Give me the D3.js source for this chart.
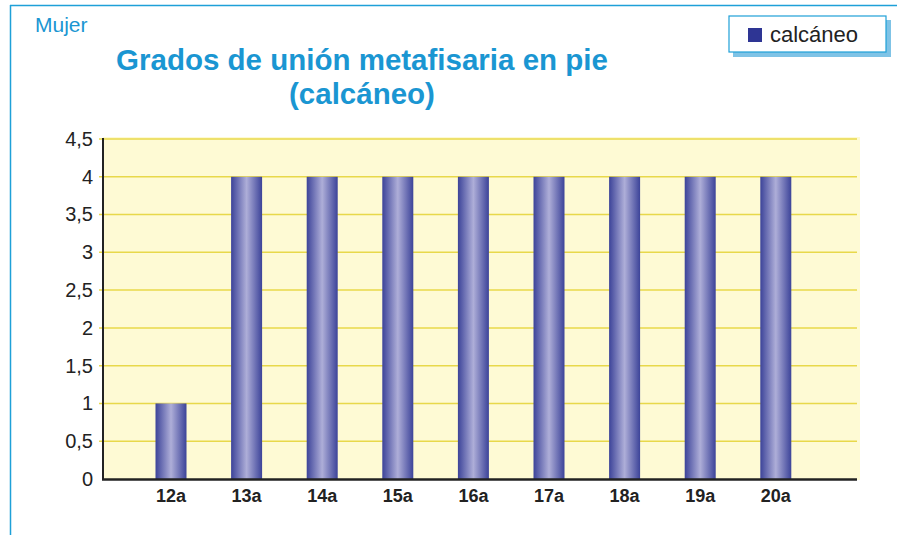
<!DOCTYPE html>
<html>
<head>
<meta charset="utf-8">
<script src="https://cdn.jsdelivr.net/npm/d3@7"></script>
<style>
  body { margin: 0; background: #fff; }
  svg text { font-family: "Liberation Sans", Arial, sans-serif; }
</style>
</head>
<body>
<svg id="chart" width="897" height="535"></svg>
<script>
// data
const categories = ["12a", "13a", "14a", "15a", "16a", "17a", "18a", "19a", "20a"];
const values = [1, 4, 4, 4, 4, 4, 4, 4, 4];
const yTicks = [0, 0.5, 1, 1.5, 2, 2.5, 3, 3.5, 4, 4.5];
const seriesName = "calcáneo";

const svg = d3.select("#chart");

let plot = { left: 103, right: 857, top: 139, bottom: 479 };

// frame
svg.append("line").attr("x1", 10).attr("x2", 897).attr("y1", 5.5).attr("y2", 5.5)
  .attr("stroke", "#1ea0d8").attr("stroke-width", 1.5);
svg.append("line").attr("x1", 10.5).attr("x2", 10.5).attr("y1", 5).attr("y2", 535)
  .attr("stroke", "#1ea0d8").attr("stroke-width", 1.5);

svg.append("text").attr("x", 35).attr("y", 32)
  .attr("font-size", 21).attr("fill", "#1a96d2").text("Mujer");

// title
let title = svg.append("text").attr("text-anchor", "middle")
  .attr("font-size", 29.5).attr("font-weight", "bold").attr("fill", "#1a96d2");
title.append("tspan").attr("x", 362).attr("y", 70).text("Grados de unión metafisaria en pie");
title.append("tspan").attr("x", 362).attr("y", 104).text("(calcáneo)");

// gradient for the bars
let defs = svg.append("defs");
let grad = defs.append("linearGradient").attr("id", "barGrad")
  .attr("x1", "0%").attr("x2", "100%").attr("y1", "0%").attr("y2", "0%");
grad.append("stop").attr("offset", "0%").attr("stop-color", "#3c4399");
grad.append("stop").attr("offset", "50%").attr("stop-color", "#aeaed8");
grad.append("stop").attr("offset", "100%").attr("stop-color", "#3c4399");

// scales
let y = d3.scaleLinear().domain([0, 4.5]).range([plot.bottom, plot.top]);
let step = 75.6;
let x = d3.scaleBand().domain(categories)
  .range([171 - step / 2, 171 - step / 2 + step * categories.length])
  .paddingInner(0.59).paddingOuter(0.295);

// background
svg.append("rect").attr("x", plot.left).attr("y", plot.top - 2)
  .attr("width", 860 - plot.left).attr("height", plot.bottom - plot.top + 3)
  .attr("fill", "#fefad4");

// grid
svg.append("g").selectAll("line.grid")
  .data(yTicks.filter(d => d > 0))
  .enter().append("line")
  .classed("grid", true)
  .attr("x1", plot.left - 4).attr("x2", plot.right)
  .attr("y1", d => y(d)).attr("y2", d => y(d))
  .attr("stroke", "#e8d84a").attr("stroke-width", 1.5);

// y axis
let yAxis = svg.append("g")
  .attr("transform", `translate(${plot.left},0)`)
  .call(d3.axisLeft(y).tickValues(yTicks).tickSize(0).tickPadding(10)
    .tickFormat(d => String(d).replace(".", ",")));
yAxis.select(".domain").remove();
yAxis.selectAll("text").attr("font-size", 20).attr("fill", "#222")
  .attr("font-family", "Liberation Sans, Arial, sans-serif");

// bars
svg.append("g").selectAll("rect.bar")
  .data(values)
  .enter().append("rect")
  .classed("bar", true)
  .attr("x", (d, i) => x(categories[i]))
  .attr("width", x.bandwidth())
  .attr("y", d => y(d))
  .attr("height", d => y(0) - y(d))
  .attr("fill", "url(#barGrad)");

// axis lines
svg.append("line").attr("x1", plot.left).attr("x2", plot.left)
  .attr("y1", plot.top - 1).attr("y2", plot.bottom + 1)
  .attr("stroke", "#222").attr("stroke-width", 2);
svg.append("line").attr("x1", plot.left - 1).attr("x2", plot.right)
  .attr("y1", plot.bottom + 0.5).attr("y2", plot.bottom + 0.5)
  .attr("stroke", "#222").attr("stroke-width", 2.5);

// x labels
let xAxis = svg.append("g")
  .attr("transform", `translate(0,${plot.bottom})`)
  .call(d3.axisBottom(x).tickSize(0).tickPadding(10));
xAxis.select(".domain").remove();
xAxis.selectAll("text").attr("font-size", 18).attr("font-weight", "bold")
  .attr("fill", "#222").attr("font-family", "Liberation Sans, Arial, sans-serif");

// legend
let lg = svg.append("g").attr("transform", "translate(729,16)");
lg.append("rect").attr("x", 4).attr("y", 4).attr("width", 158).attr("height", 37)
  .attr("fill", "#7fc3e6");
lg.append("rect").attr("x", 0).attr("y", 0).attr("width", 157).attr("height", 36)
  .attr("fill", "#fff").attr("stroke", "#1ea0d8").attr("stroke-width", 1.2);
lg.append("rect").attr("x", 19).attr("y", 12).attr("width", 14).attr("height", 14)
  .attr("fill", "#2e3594");
lg.append("text").attr("x", 41).attr("y", 26).attr("font-size", 22)
  .attr("fill", "#222").text(seriesName);
</script>
</body>
</html>
